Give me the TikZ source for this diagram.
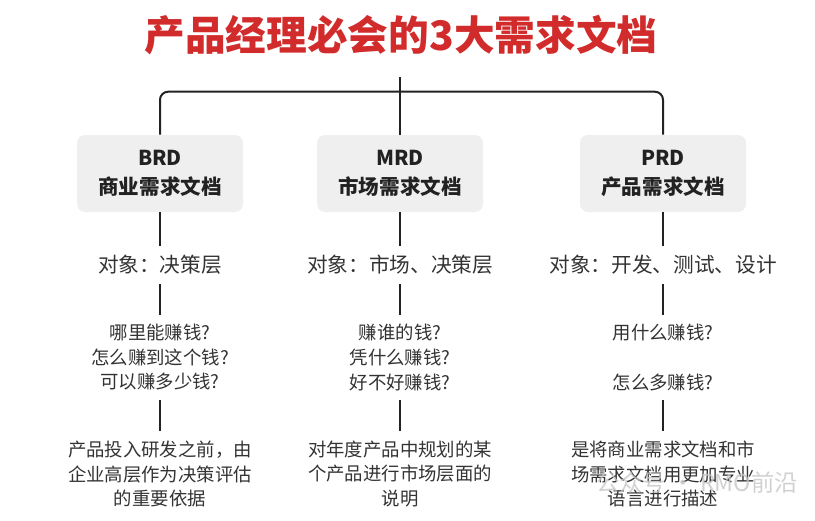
\documentclass[tikz,border=0pt]{standalone}
\usepackage{fontspec}
\newfontfamily\cjk{Noto Sans CJK SC}
\definecolor{titlered}{HTML}{D22B2B}
\definecolor{boxgray}{HTML}{EFEFEF}
\definecolor{inkgray}{HTML}{333333}
\definecolor{linegray}{HTML}{222222}
\begin{document}
\begin{tikzpicture}[x=0.75pt,y=-0.75pt,
    title/.style={text=titlered, font=\cjk\bfseries\fontsize{30.5}{34}\selectfont},
    doc/.style={fill=boxgray, rounded corners=6pt, minimum width=124.5pt, minimum height=57.75pt,
      align=center, text=linegray, font=\cjk\bfseries\fontsize{15.4}{21.75}\selectfont},
    obj/.style={text=inkgray, inner sep=0pt, inner ysep=7pt, font=\cjk\fontsize{15.5}{18}\selectfont},
    txt/.style={text=inkgray, align=center, inner sep=0pt, inner ysep=7pt, font=\cjk\fontsize{13.8}{18.4}\selectfont},
    link/.style={draw=linegray, line width=1.5pt}]
	\useasboundingbox (0,0) rectangle (815,521);
	\node[title] (title) at (401,35) {产品经理必会的3大需求文档};

	\node[doc] (brd) at (160,173.5) {BRD\\商业需求文档};
	\node[doc] (mrd) at (400,173.5) {MRD\\市场需求文档};
	\node[doc] (prd) at (663,173.5) {PRD\\产品需求文档};

	\node[obj] (obj1) at (160,265) {对象：决策层};
	\node[obj] (obj2) at (400,265) {对象：市场、决策层};
	\node[obj] (obj3) at (663,265) {对象：开发、测试、设计};

	\node[txt] (q1) at (160,357.5) {哪里能赚钱?\\怎么赚到这个钱?\\可以赚多少钱?};
	\node[txt] (q2) at (400,357.5) {赚谁的钱?\\凭什么赚钱?\\好不好赚钱?};
	\node[txt] (q3) at (663,357.5) {用什么赚钱?\\[18.4pt]怎么多赚钱?};

	\node[txt] (d1) at (160,474) {产品投入研发之前，由\\企业高层作为决策评估\\的重要依据};
	\node[txt] (d2) at (400,474) {对年度产品中规划的某\\个产品进行市场层面的\\说明};
	\node[txt] (d3) at (663,474) {是将商业需求文档和市\\场需求文档用更加专业\\语言进行描述};

	\coordinate (top) at (400,77);
	\draw[link, rounded corners=6pt] (brd.north) -- ++(0,-43) -| (prd.north);
	\draw[link] (top) -- (mrd.north);

	\foreach \c in {1,2,3} {
		\path[link]
		(obj\c.south) -- (q\c.north)
		(q\c.south) -- (d\c.north);
	}
	\path[link]
	(brd.south) -- (obj1.north)
	(mrd.south) -- (obj2.north)
	(prd.south) -- (obj3.north);

	\node[text=gray!45, opacity=0.8, font=\cjk\fontsize{17.5}{20}\selectfont] (mark) at (697,483) {公众号 · RMO前沿};
\end{tikzpicture}
\end{document}
